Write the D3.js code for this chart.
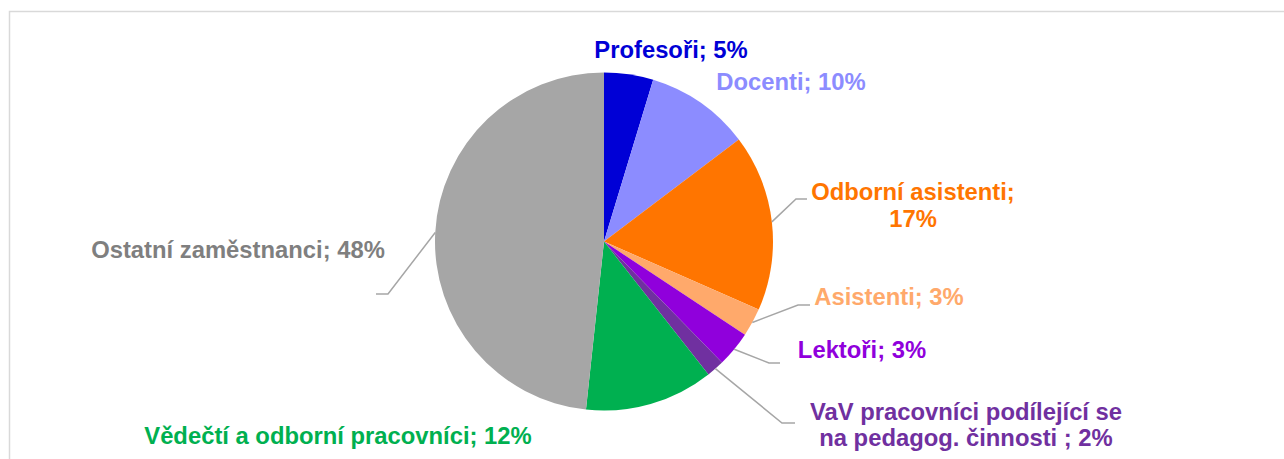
<!DOCTYPE html>
<html>
<head>
<meta charset="utf-8">
<script src="https://cdn.jsdelivr.net/npm/d3@7"></script>
<style>
  html, body { margin: 0; padding: 0; background: #fff; }
  svg { display: block; }
  text { font-family: "Liberation Sans", Arial, sans-serif; font-weight: bold; font-size: 23.8px; }
</style>
</head>
<body>
<svg></svg>
<script>
// categories and shares (in %)
var categories = ["Profesoři", "Docenti", "Odborní asistenti", "Asistenti", "Lektoři",
                  "VaV pracovníci podílející se na pedagog. činnosti ", "Vědečtí a odborní pracovníci",
                  "Ostatní zaměstnanci"];
var values = [4.7, 10.0, 16.9, 2.7, 3.4, 1.7, 12.3, 48.3];
var sliceColors = ["#0000d6", "#8c8cff", "#ff7500", "#ffa96b", "#9000dc", "#7030a0", "#00b050", "#a6a6a6"];
var labelColors = ["#0000d6", "#8c8cff", "#ff7500", "#ffa96b", "#9000dc", "#7030a0", "#00b050", "#7f7f7f"];

// label text lines ("{pct}" gets the rounded share)
var labelLines = [
  ["Profesoři; {pct}"],
  ["Docenti; {pct}"],
  ["Odborní asistenti;", "{pct}"],
  ["Asistenti; {pct}"],
  ["Lektoři; {pct}"],
  ["VaV pracovníci podílející se", "na pedagog. činnosti ; {pct}"],
  ["Vědečtí a odborní pracovníci; {pct}"],
  ["Ostatní zaměstnanci; {pct}"]
];

function start() {
  var width = 1284, height = 459;
  var cx = 604, cy = 241.5, r = 169;

  var svg = d3.select("svg")
      .attr("width", width)
      .attr("height", height);

  // chart frame
  svg.append("rect")
      .attr("x", 9.5).attr("y", 11.5)
      .attr("width", width).attr("height", height)
      .attr("fill", "none")
      .attr("stroke", "#d9d9d9")
      .attr("stroke-width", 1.5);

  var data = categories.map(function(c, i) {
    return { name: c, value: values[i], color: sliceColors[i], labelColor: labelColors[i], lines: labelLines[i] };
  });

  var total = d3.sum(values);
  var pct = d3.format(".0%");

  var pie = d3.pie().sort(null).value(function(d) { return d.value; });
  var arc = d3.arc().innerRadius(0).outerRadius(r);
  var arcs = pie(data);

  var g = svg.append("g").attr("transform", "translate(" + cx + "," + cy + ")");

  g.selectAll(".slice")
    .data(arcs)
    .enter().append("path")
      .attr("class", "slice")
      .attr("d", arc)
      .attr("fill", function(d) { return d.data.color; });

  // manual label placement like in the original (center x, first baseline, line gap)
  var labelPos = [
    [671, 58, 0], [791, 90, 0], [913, 200, 27], [889, 305, 0],
    [862, 358, 0], [966, 420, 26], [338, 444, 0], [238, 258, 0]
  ];
  // leader lines: [elbow, end] in page coords; null = no leader
  var leaders = [
    null, null,
    [[796, 199], [807, 199]],
    [[798, 305], [810, 305]],
    [[769, 363], [780, 363]],
    [[782, 423], [795, 423]],
    null,
    [[388, 294], [376, 294]]
  ];

  var outer = d3.arc().innerRadius(r).outerRadius(r);

  arcs.forEach(function(a, i) {
    if (!leaders[i]) return;
    var p = outer.centroid(a);
    var pts = [[cx + p[0], cy + p[1]]].concat(leaders[i]);
    svg.append("path")
        .attr("d", d3.line()(pts))
        .attr("fill", "none")
        .attr("stroke", "#a6a6a6")
        .attr("stroke-width", 1.5);
  });

  arcs.forEach(function(a, i) {
    var d = a.data;
    var t = svg.append("text")
        .attr("text-anchor", "middle")
        .attr("fill", d.labelColor);
    d.lines.forEach(function(line, j) {
      t.append("tspan")
          .attr("x", labelPos[i][0])
          .attr("y", labelPos[i][1] + j * labelPos[i][2])
          .text(line.replace("{pct}", pct(d.value / total)));
    });
  });
}
start();
</script>
</body>
</html>
